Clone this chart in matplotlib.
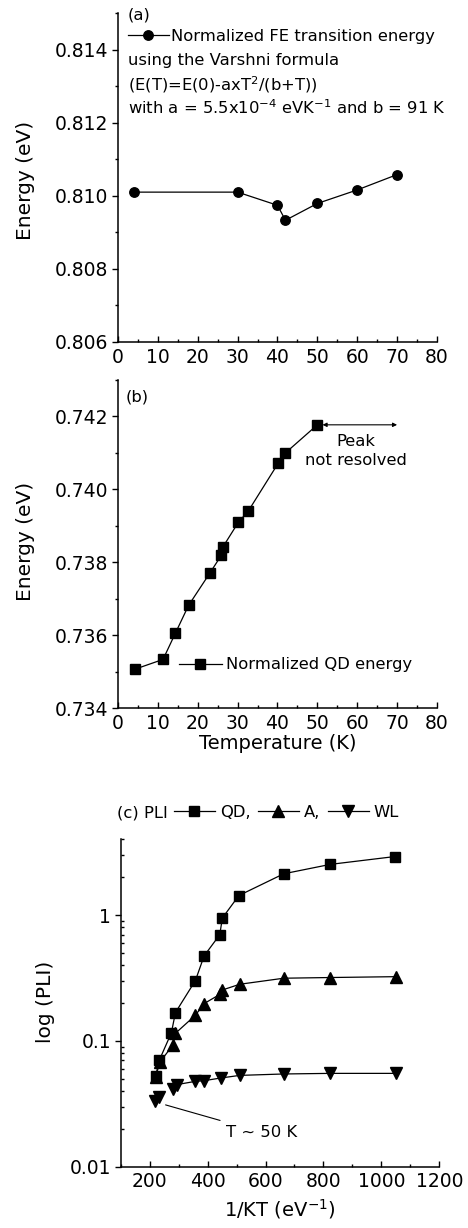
import matplotlib
matplotlib.use('Agg')
import matplotlib.pyplot as plt
from matplotlib.ticker import MultipleLocator, LogLocator, NullFormatter, FixedLocator, FixedFormatter

plt.rcParams['font.family'] = ['DejaVu Sans']
plt.rcParams['mathtext.fontset'] = 'dejavusans'

# (a) FE transition energy vs temperature
fe_temp = [4, 30, 40, 42, 50, 60, 70]
fe_energy = [0.8101, 0.8101, 0.80974, 0.80933, 0.80979, 0.81016, 0.81058]

# (b) QD energy vs temperature
qd_temp = [4.2, 11.3, 14.4, 17.7, 23, 25.9, 26.3, 30.2, 32.7, 40.2, 42, 50]
qd_energy = [0.73507, 0.73534, 0.73606, 0.73682, 0.7377, 0.73819, 0.73842,
             0.7391, 0.73941, 0.74072, 0.741, 0.74177]

# (c) PL intensity vs 1/kT
qd_x = [221, 233, 275, 289, 358, 388, 442, 451, 508, 663, 824, 1047]
qd_pli = [0.053, 0.070, 0.116, 0.168, 0.302, 0.474, 0.698, 0.948, 1.43, 2.13, 2.53, 2.92]
a_x = [221, 235, 279, 289, 358, 388, 442, 451, 511, 663, 824, 1050]
a_pli = [0.052, 0.0676, 0.092, 0.115, 0.160, 0.198, 0.234, 0.254, 0.282, 0.315, 0.319, 0.324]
wl_x = [218, 233, 281, 293, 358, 388, 445, 511, 663, 824, 1050]
wl_pli = [0.033, 0.036, 0.0414, 0.0449, 0.0477, 0.0483, 0.0507, 0.0532, 0.0546, 0.0552, 0.0552]

FS = 13.5
AFS = 14.5
LFS = 11.8
LW = 0.9

fig = plt.figure(figsize=(4.68, 12.28), dpi=100)

def style_axes(ax):
    ax.spines['top'].set_visible(False)
    ax.spines['right'].set_visible(False)
    for s in ('left', 'bottom'):
        ax.spines[s].set_linewidth(1.1)
    ax.tick_params(axis='x', which='major', direction='in', length=4, width=1, pad=4, labelsize=FS)
    ax.tick_params(axis='x', which='minor', direction='in', length=2.5, width=1)
    ax.tick_params(axis='y', which='major', direction='out', length=4, width=1, pad=3, labelsize=FS)
    ax.tick_params(axis='y', which='minor', direction='out', length=2.5, width=1)

# ---- panel (a)
ax1 = fig.add_axes([0.2521, 0.7215, 0.6816, 0.2679])
ax1.plot(fe_temp, fe_energy, color='black', lw=LW, marker='o', ms=6.8,
         label='Normalized FE transition energy')
ax1.set_xlim(0, 80)
ax1.set_ylim(0.806, 0.815)
ax1.xaxis.set_major_locator(MultipleLocator(10))
ax1.xaxis.set_minor_locator(MultipleLocator(5))
ax1.yaxis.set_major_locator(FixedLocator([0.806, 0.808, 0.810, 0.812, 0.814]))
ax1.yaxis.set_major_formatter(FixedFormatter(['0.806', '0.808', '0.810', '0.812', '0.814']))
ax1.yaxis.set_minor_locator(MultipleLocator(0.001))
style_axes(ax1)
ax1.set_ylabel('Energy (eV)', fontsize=AFS)
ax1.yaxis.set_label_coords(-0.26, 0.492)
ax1.text(0.031, 0.993, '(a)', transform=ax1.transAxes, fontsize=LFS, va='center', ha='left')
ax1.legend(loc='center left', bbox_to_anchor=(0.031, 0.928), frameon=False, fontsize=LFS,
           handlelength=2.5, handletextpad=0.15, borderpad=0, borderaxespad=0)
ax1.text(0.031, 0.857, 'using the Varshni formula', transform=ax1.transAxes,
         fontsize=LFS, va='center', ha='left')
ax1.text(0.031, 0.781, '(E(T)=E(0)-axT$^2$/(b+T))', transform=ax1.transAxes,
         fontsize=LFS, va='center', ha='left')
ax1.text(0.031, 0.711, 'with a = 5.5x10$^{-4}$ eVK$^{-1}$ and b = 91 K', transform=ax1.transAxes,
         fontsize=LFS, va='center', ha='left')

# ---- panel (b)
ax2 = fig.add_axes([0.2521, 0.4232, 0.6816, 0.2674])
ax2.plot(qd_temp, qd_energy, color='black', lw=LW, marker='s', ms=6.5,
         label='Normalized QD energy')
ax2.set_xlim(0, 80)
ax2.set_ylim(0.734, 0.743)
ax2.xaxis.set_major_locator(MultipleLocator(10))
ax2.xaxis.set_minor_locator(MultipleLocator(5))
ax2.yaxis.set_major_locator(FixedLocator([0.734, 0.736, 0.738, 0.740, 0.742]))
ax2.yaxis.set_major_formatter(FixedFormatter(['0.734', '0.736', '0.738', '0.740', '0.742']))
ax2.yaxis.set_minor_locator(MultipleLocator(0.001))
style_axes(ax2)
ax2.set_ylabel('Energy (eV)', fontsize=AFS)
ax2.yaxis.set_label_coords(-0.26, 0.509)
ax2.set_xlabel('Temperature (K)', fontsize=14, labelpad=1)
ax2.text(0.025, 0.949, '(b)', transform=ax2.transAxes, fontsize=LFS, va='center', ha='left')
ax2.legend(loc='center left', bbox_to_anchor=(0.191, 0.132), frameon=False, fontsize=LFS,
           handlelength=2.6, handletextpad=0.3, borderpad=0, borderaxespad=0)
ax2.annotate('', xy=(51.3, qd_energy[-1]), xytext=(70, qd_energy[-1]),
             arrowprops=dict(arrowstyle='<|-|>', color='black', lw=0.8,
                             mutation_scale=6, shrinkA=0, shrinkB=0))
ax2.text(59.7, 0.74105, 'Peak\nnot resolved', fontsize=LFS, ha='center', va='center',
         linespacing=1.3)

# ---- panel (c)
ax3 = fig.add_axes([0.2579, 0.0499, 0.6808, 0.2666])
l_qd, = ax3.plot(qd_x, qd_pli, color='black', lw=LW, marker='s', ms=6.5)
l_a, = ax3.plot(a_x, a_pli, color='black', lw=LW, marker='^', ms=8)
l_wl, = ax3.plot(wl_x[2:], wl_pli[2:], color='black', lw=LW, marker='v', ms=8)
ax3.plot(wl_x[:2], wl_pli[:2], color='black', lw=LW, marker='v', ms=8)
ax3.set_yscale('log')
ax3.set_xlim(100, 1200)
ax3.set_ylim(0.01, 4)
ax3.xaxis.set_major_locator(FixedLocator([200, 400, 600, 800, 1000, 1200]))
ax3.xaxis.set_minor_locator(MultipleLocator(100))
ax3.yaxis.set_major_locator(FixedLocator([0.01, 0.1, 1]))
ax3.yaxis.set_major_formatter(FixedFormatter(['0.01', '0.1', '1']))
ax3.yaxis.set_minor_locator(LogLocator(base=10, subs=range(2, 10)))
ax3.yaxis.set_minor_formatter(NullFormatter())
style_axes(ax3)
ax3.tick_params(axis='y', which='minor', direction='in', length=2.5)
ax3.set_ylabel('log (PLI)', fontsize=AFS)
ax3.yaxis.set_label_coords(-0.206, 0.503)
ax3.set_xlabel('1/KT (eV$^{-1}$)', fontsize=14, labelpad=4)
ax3.annotate('T ~ 50 K', xy=(255, 0.031), xytext=(463, 0.0188), fontsize=LFS,
             ha='left', va='center',
             arrowprops=dict(arrowstyle='-', color='black', lw=0.8, shrinkA=4, shrinkB=0))

fig.text(116.7 / 468, 1 - 812.7 / 1228, '(c) PLI', fontsize=LFS, ha='left', va='center')
fig.legend([l_qd, l_a, l_wl], ['QD,', 'A,', 'WL'], loc='center left',
           bbox_to_anchor=(174 / 468, 1 - 812.7 / 1228), ncol=3, frameon=False,
           fontsize=LFS, handlelength=2.5, handletextpad=0.3, columnspacing=0.45,
           borderpad=0, borderaxespad=0)

fig.savefig('out.png', dpi=100)
